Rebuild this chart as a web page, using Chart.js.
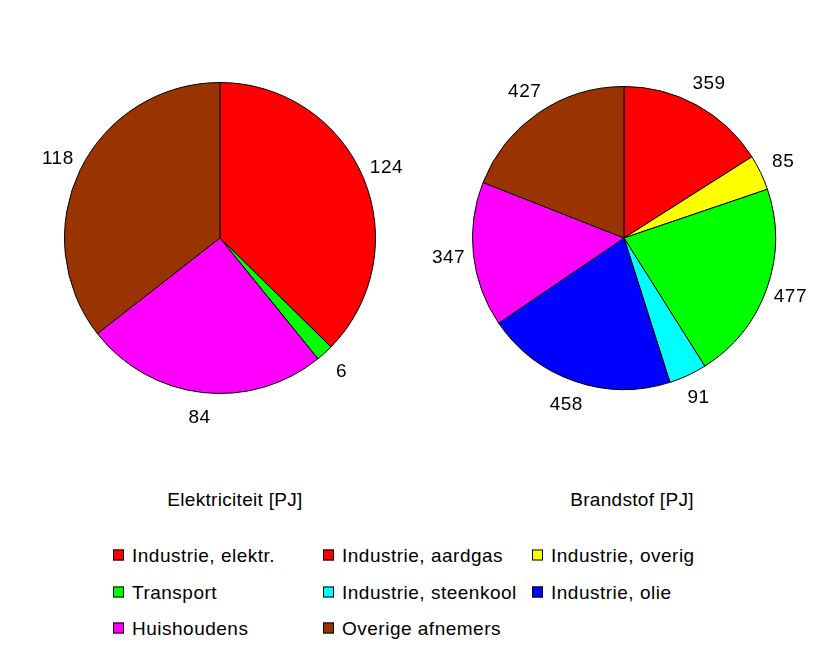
<!DOCTYPE html>
<html>
<head>
<meta charset="utf-8">
<script src="https://cdn.jsdelivr.net/npm/chart.js@4/dist/chart.umd.min.js"></script>
<style>
  body { margin: 0; background: #fff; font-family: "Liberation Sans", Arial, sans-serif; }
  #wrap { position: relative; width: 822px; height: 649px; overflow: hidden; }
  canvas { position: absolute; }
  .title { position: absolute; font-size: 19px; letter-spacing: 0.3px; line-height: 1; color: #000; transform: translate(-50%, -50%); white-space: nowrap; }
  .item { position: absolute; font-size: 19px; letter-spacing: 0.5px; line-height: 1; white-space: nowrap; color: #000; transform: translateY(-50%); display: flex; align-items: center; }
  .box { display: inline-block; width: 9px; height: 9px; border: 1px solid #000; margin-right: 8px; }
</style>
</head>
<body>
<div id="wrap">
  <canvas id="elek" width="392" height="392" style="left:24px;top:42px"></canvas>
  <canvas id="brand" width="384" height="384" style="left:432px;top:46px"></canvas>
  <div class="title" style="left:235px;top:499px">Elektriciteit [PJ]</div>
  <div class="title" style="left:632px;top:499px">Brandstof [PJ]</div>
  <div id="legend"></div>
</div>
<script>
var elekLabels = ['Industrie, elektr.', 'Transport', 'Huishoudens', 'Overige afnemers'];
var elekValues = [124, 6, 84, 118];
var elekColors = ['#ff0000', '#00ff00', '#ff00ff', '#993300'];

var brandLabels = ['Industrie, aardgas', 'Industrie, overig', 'Transport', 'Industrie, steenkool', 'Industrie, olie', 'Huishoudens', 'Overige afnemers'];
var brandValues = [359, 85, 477, 91, 458, 347, 427];
var brandColors = ['#ff0000', '#ffff00', '#00ff00', '#00ffff', '#0000ff', '#ff00ff', '#993300'];

var legendLabels = ['Industrie, elektr.', 'Industrie, aardgas', 'Industrie, overig',
  'Transport', 'Industrie, steenkool', 'Industrie, olie',
  'Huishoudens', 'Overige afnemers'];
var legendColors = ['#ff0000', '#ff0000', '#ffff00', '#00ff00', '#00ffff', '#0000ff', '#ff00ff', '#993300'];

// value labels just outside each slice
var outsideLabels = {
  id: 'outsideLabels',
  afterDatasetsDraw: function(chart) {
    var ctx = chart.ctx;
    var meta = chart.getDatasetMeta(0);
    var values = chart.data.datasets[0].data;
    ctx.save();
    ctx.font = '19px "Liberation Sans", Arial, sans-serif';
    ctx.letterSpacing = '0.5px';
    ctx.fillStyle = '#000';
    ctx.textAlign = 'center';
    ctx.textBaseline = 'middle';
    meta.data.forEach(function(arc, i) {
      var mid = (arc.startAngle + arc.endAngle) / 2;
      var r = arc.outerRadius + 25;
      ctx.fillText(String(values[i]), arc.x + Math.cos(mid) * r, arc.y + Math.sin(mid) * r);
    });
    ctx.restore();
  }
};

function makePie(id, labels, values, colors, pad) {
  var ctx = document.getElementById(id).getContext('2d');
  return new Chart(ctx, {
    type: 'pie',
    data: {
      labels: labels,
      datasets: [{
        data: values,
        backgroundColor: colors,
        borderColor: '#000',
        borderWidth: 1
      }]
    },
    options: {
      responsive: false,
      animation: false,
      devicePixelRatio: 1,
      layout: { padding: pad },
      plugins: { legend: { display: false }, tooltip: { enabled: false } }
    },
    plugins: [outsideLabels]
  });
}

makePie('elek', elekLabels, elekValues, elekColors, 40);
makePie('brand', brandLabels, brandValues, brandColors, 40);

// legend, 3 columns
var colX = [113, 323, 532];
var rowY = [555, 592, 628];
var wrap = document.getElementById('wrap');
legendLabels.forEach(function(lab, i) {
  var d = document.createElement('div');
  d.className = 'item';
  d.style.left = colX[i % 3] + 'px';
  d.style.top = rowY[Math.floor(i / 3)] + 'px';
  d.innerHTML = '<span class="box" style="background:' + legendColors[i] + '"></span>' + lab;
  wrap.appendChild(d);
});
</script>
</body>
</html>
